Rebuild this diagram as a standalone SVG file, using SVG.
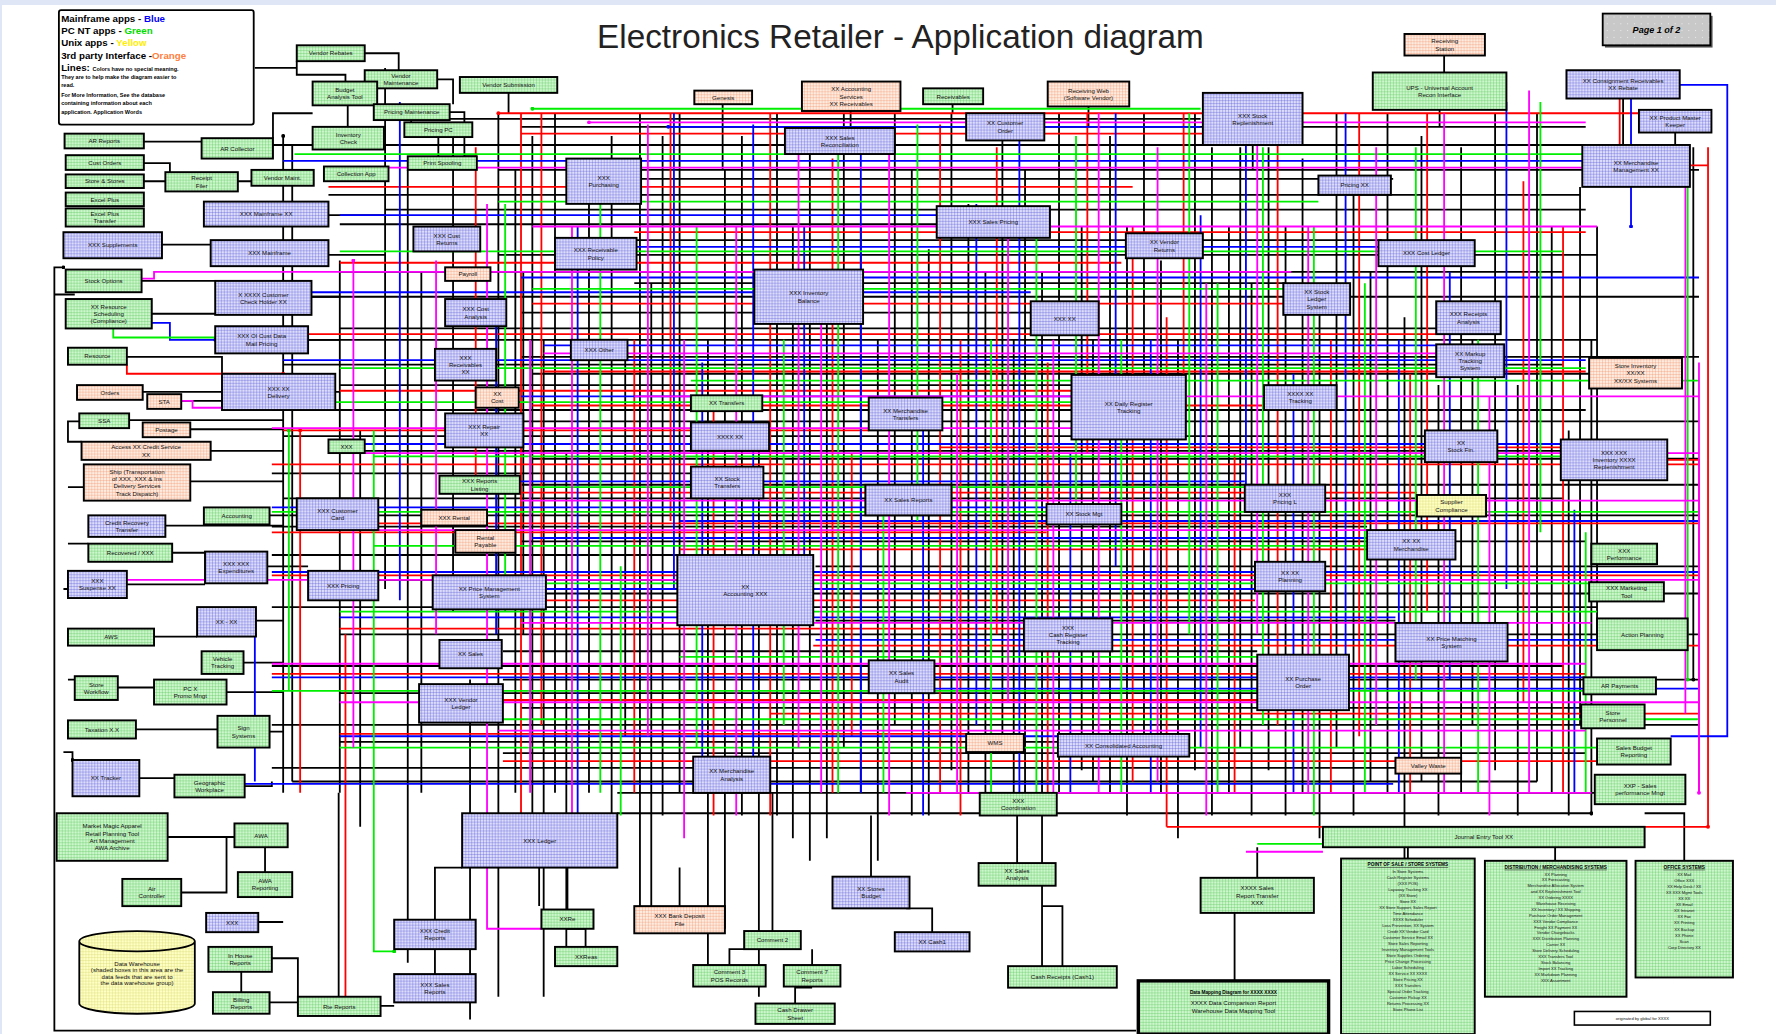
<svg xmlns="http://www.w3.org/2000/svg" width="1776" height="1034" viewBox="0 0 1776 1034">
<defs>
<pattern id="pg" width="2.6" height="2.6" patternUnits="userSpaceOnUse"><rect width="2.6" height="2.6" fill="#ccf6cc"/><path d="M0 0H2.6M0 0V2.6" stroke="#4fbf4f" stroke-width="0.55"/></pattern>
<pattern id="pb" width="2.6" height="2.6" patternUnits="userSpaceOnUse"><rect width="2.6" height="2.6" fill="#dcdcfc"/><path d="M0 0H2.6M0 0V2.6" stroke="#4a4ad0" stroke-width="0.55"/></pattern>
<pattern id="po" width="2.6" height="2.6" patternUnits="userSpaceOnUse"><rect width="2.6" height="2.6" fill="#ffece0"/><path d="M0 0H2.6M0 0V2.6" stroke="#ec8c60" stroke-width="0.55"/></pattern>
<pattern id="py" width="2.6" height="2.6" patternUnits="userSpaceOnUse"><rect width="2.6" height="2.6" fill="#ffffc4"/><path d="M0 0H2.6M0 0V2.6" stroke="#d0d060" stroke-width="0.55"/></pattern>
<pattern id="pq" width="6" height="6" patternUnits="userSpaceOnUse"><rect width="6" height="6" fill="#c8c8c8"/><circle cx="3" cy="3" r="0.5" fill="#f4f4f4"/></pattern>
<marker id="dk" viewBox="0 0 4 4" refX="2" refY="2" markerWidth="3.4" markerHeight="3.4" markerUnits="userSpaceOnUse"><circle cx="2" cy="2" r="2" fill="#000"/></marker>
<marker id="dr" viewBox="0 0 4 4" refX="2" refY="2" markerWidth="3.4" markerHeight="3.4" markerUnits="userSpaceOnUse"><circle cx="2" cy="2" r="2" fill="#ff0000"/></marker>
<marker id="du" viewBox="0 0 4 4" refX="2" refY="2" markerWidth="3.4" markerHeight="3.4" markerUnits="userSpaceOnUse"><circle cx="2" cy="2" r="2" fill="#0000ff"/></marker>
<marker id="de" viewBox="0 0 4 4" refX="2" refY="2" markerWidth="3.4" markerHeight="3.4" markerUnits="userSpaceOnUse"><circle cx="2" cy="2" r="2" fill="#00dd00"/></marker>
<marker id="dm" viewBox="0 0 4 4" refX="2" refY="2" markerWidth="3.4" markerHeight="3.4" markerUnits="userSpaceOnUse"><circle cx="2" cy="2" r="2" fill="#ff00ff"/></marker>
</defs>
<style>
text{font-family:"Liberation Sans",Arial,sans-serif}
.n rect{stroke:#000;stroke-width:1.7}
.g{fill:url(#pg)}.b{fill:url(#pb)}.o{fill:url(#po)}.y{fill:url(#py)}
.t{font-size:5.4px;fill:#111;text-anchor:middle}
.s{font-size:3.6px;fill:#111;text-anchor:middle}
.h{font-size:4.2px;font-weight:bold;text-decoration:underline;fill:#000;text-anchor:middle}
.k{fill:none;stroke:#000;stroke-width:1.6;marker-start:url(#dk);marker-end:url(#dk)}
.r{fill:none;stroke:#ff0000;stroke-width:1.6;marker-start:url(#dr);marker-end:url(#dr)}
.u{fill:none;stroke:#0000ff;stroke-width:1.6;marker-start:url(#du);marker-end:url(#du)}
.e{fill:none;stroke:#00ee00;stroke-width:1.6;marker-start:url(#de);marker-end:url(#de)}
.m{fill:none;stroke:#ff00ff;stroke-width:1.6;marker-start:url(#dm);marker-end:url(#dm)}
.lg{font-size:8.6px;font-weight:bold;fill:#000}
.ls{font-size:4.9px;font-weight:bold;fill:#000}
</style>
<rect width="1776" height="1034" fill="#ffffff"/>
<rect width="1776" height="5" fill="#dfe7f7"/>
<rect width="2" height="1034" fill="#dfe7f7"/>
<g transform="scale(1.13265)">
<text x="795" y="42" font-size="29.4" fill="#222" text-anchor="middle">Electronics Retailer - Application diagram</text>
<g id="page">
<rect x="1417" y="14" width="95" height="28" fill="#555"/>
<rect x="1415" y="12" width="95" height="28" fill="url(#pq)" stroke="#000" stroke-width="1.6"/>
<text x="1462.5" y="29" font-size="8" font-weight="bold" font-style="italic" text-anchor="middle">Page 1 of 2</text>
</g>
<g id="legend">
<rect x="52" y="9" width="172" height="101" fill="#fff" stroke="#000" stroke-width="1.6" rx="2"/>
<text class="lg" x="54" y="19">Mainframe apps - <tspan fill="#0000ff">Blue</tspan></text>
<text class="lg" x="54" y="30">PC NT apps - <tspan fill="#00dd00">Green</tspan></text>
<text class="lg" x="54" y="41">Unix apps - <tspan fill="#ffee00">Yellow</tspan></text>
<text class="lg" x="54" y="52">3rd party Interface -<tspan fill="#ff8040">Orange</tspan></text>
<text class="lg" x="54" y="63">Lines: <tspan class="ls">Colors have no special meaning.</tspan></text>
<text class="ls" x="54" y="70">They are to help make the diagram easier to</text>
<text class="ls" x="54" y="77">read.</text>
<text class="ls" x="54" y="86">For More Information, See the database</text>
<text class="ls" x="54" y="93">containing information about each</text>
<text class="ls" x="54" y="101">application.  Application Words</text>
</g>
<g id="connectors">
<path class="k" d="M340 105H1060M460 112H1400M300 128H1400M440 150H1500M560 158H1230M290 172H1395M340 185H1400M300 198H830M560 212H1220M440 225H1410M300 240H1380M560 250H1135M240 262H1500M460 276H910M300 290H1268M240 300H1410M460 315H1500M250 322H1380M470 330H1410M300 340H946M240 362H1400M460 372H1500M250 385H1258M300 398H1380M470 405H1500M240 418H1100M460 428H1500M250 440H1380M334 455H1500M240 465H1207M460 478H1400M240 490H598M720 500H1500M334 512H1108M460 524H1500M240 536H1410M720 548H1232M300 560H1500M444 575H1110M240 588H1380M444 600H1500M300 612H1110M460 625H1400M240 640H1500M300 655H934M444 665H1400M240 678H1232M258 690H1357M545 700H1410M545 718H1405"/>
<path class="k" d="M250 120V700M258 128V690M300 230V700M318 380V730M340 60V520M360 150V850M372 240V700M400 120V540M415 600V900M440 100V880M455 150V700M462 240V560M470 120V720M480 300V880M490 100V700M500 400V850M520 160V700M540 120V720M552 300V650M565 100V800M575 250V800M585 120V720M600 100V700M625 300V860M640 150V820M655 120V720M670 380V880M686 100V720M700 200V740M715 120V760M730 280V740M745 100V660M760 200V700M775 300V760M790 100V640M805 150V720M820 220V720M840 100V680M855 180V700M870 240V720M885 100V660M895 300V720M905 150V700M920 240V860M935 100V700M955 200V680M965 300V690M980 120V700M995 200V720M1010 100V660M1025 230V700M1040 300V740M1055 100V680M1070 130V720M1085 200V700M1095 130V660M1105 250V720M1120 130V680M1135 200V720M1150 140V700M1165 250V740M1180 100V660M1195 170V720M1210 240V690M1225 100V700M1240 280V760M1255 120V690M1270 340V720M1290 130V700M1300 300V640M1320 100V680M1340 340V720M1357 100V690M1370 200V700M1385 380V720M1395 165V640M1405 300V720M1410 200V560M1495 130V600"/>
<path class="k" d="M56 236H48V910H1003M127 125H178M241 128H276M127 144H150V152M127 160H146M210 160H222M143 216H186M290 190H340M290 225H340M125 248H190M134 277H190M112 315H196V330M126 346H196M160 354H196M114 371H250M168 379H250M186 398H250M168 425H250M146 464H250M152 488H181M112 516H181M136 562H174M104 607H136M120 644H192M123 687H154M238 455H262M236 500H272M226 548H250M215 585H250M200 611H250M238 646H250M216 694H240V690M275 262H300M272 300H300M296 346H300M322 47H352V62M305 72V66H262V54M386 70H400V92M363 106V108M307 93V112M397 99H410V138H421M387 121V138M241 122V100H276M225 60H262M449 82V100M638 92V150M751 98V113M841 92V100M961 94V112M1275 49V64M1271 97V112M1433 87V128M1479 117V128M1106 128V150M476 766V800M501 803V766M517 836V820H500M600 800V766M682 822V700M644 852V838H682M717 852V838M702 886V872H717M769 774V720M823 823V802H800M898 762V720M938 853V800H920M1110 775V748M1243 758V748M1373 760V748M1487 760V718H1452M1090 866V806M384 812V766H408M384 838V860M336 888H348M299 880V700M240 846H263V880M228 814H250M213 858V876M238 885H263M148 739H207M160 788H200V739M234 748V770M66 260H48M70 372H60V390H72M60 430H74M60 480H78M56 520H60M60 600H66M56 664H64V671"/>
<path class="r" d="M440 100H1505M460 118H1150M290 165H1000M560 205H1400M300 232H990M470 268H1133M240 295H1268M480 328H1400M300 345H946M470 358H1116M250 380H767M830 395H1378M240 410H1500M460 435H1251M300 462H1500M240 470H924M600 485H1207M240 508H1500M460 530H1108M300 555H904M718 570H1500M240 595H1400M444 618H1110M680 630H1500M300 648H853M444 672H1410M1030 730H1508"/>
<path class="r" d="M265 380V700M305 560V890H336M420 130V420M460 100V720M478 100V640M560 300V700M592 100V460M630 360V720M680 100V720M735 140V700M752 400V650M830 110V700M848 300V720M880 130V560M925 320V700M960 100V400M1000 200V690M1030 280V730M1045 100V330M1090 400V700M1128 100V640M1175 300V700M1200 100V650M1245 330V700M1260 100V540M1345 160V620M1380 200V700M1430 87V128M1472 406H1500V700M1508 130V730M1492 146H1508M112 322V330H250"/>
<path class="u" d="M590 112H1060M250 142H1400M300 190H827M520 218H1217M460 245H1500M250 258H910M480 305H1268M250 318H1400M460 350H946M300 392H1378M460 425H1099M240 448H924M600 460H1500M470 475H1207M240 505H1500M460 520H1110M300 545H1232M720 565H1410M240 598H1400M825 608H1500M300 650H934M216 692H1230M1483 75H1525V650H1475M134 285H150V300H190"/>
<path class="u" d="M225 560V690M353 90V530M438 280V560M510 200V760M595 100V520M620 320V700M665 110V680M710 200V520M760 120V700M815 350V720M862 180V640M900 110V700M945 400V700M985 100V500M1016 300V700M1060 190V660M1100 100V450M1142 330V700M1188 100V600M1235 300V700M1280 240V600M1330 90V520M1390 450V700M1440 87V200"/>
<path class="e" d="M470 96H1060M260 136H1400M440 178H1164M300 222H1380M470 255H1133M300 325H1400M610 336H1500M240 355H946M330 403H1378M470 430H1099M240 452H1500M330 482H1207M470 515H1405M300 540H1410M600 580H1110M240 610H1398M440 635H1500M300 660H1410M1168 745H1110M100 290V298H190M330 800V840H348"/>
<path class="e" d="M255 380V610M330 380V800M446 180V540M530 160V700M548 500V720M615 200V660M692 300V640M740 120V700M780 440V700M810 110V460M875 300V700M915 200V700M950 120V450M990 300V700M1050 100V560M1075 250V700M1115 130V640M1160 200V720M1205 250V700M1250 130V600M1305 300V700M1360 90V470M1400 470V700M1490 160V600"/>
<path class="m" d="M520 108H1400M300 148H1400M470 200H1410M240 240H1140M480 312H1268M560 350H1500M240 378H946M320 400H1500M460 442H1500M330 468H1207M250 512H1500M460 550H1405M240 586H1400M300 620H1500M440 645H1400M800 700H1405M1168 752H1100M125 246H136V240H240M112 512H250M160 354H170V360H250"/>
<path class="m" d="M312 230V660M385 230V560M430 180V820H478M468 300V700M505 200V720M572 110V650M604 300V740M650 200V720M705 130V660M725 240V700M785 130V720M845 330V700M890 200V620M930 300V700M970 100V700M1022 130V690M1065 250V720M1110 100V560M1155 200V700M1215 130V640M1275 100V700M1315 350V720M1350 80V700M1488 165V630M1500 320V700"/>
</g>
<g id="nodes">
<g id="n1" class="n"><rect class="g" x="262" y="40" width="60" height="14"/><text class="t" x="292" y="49">Vendor Rebates</text></g>
<g id="n2" class="n"><rect class="g" x="322" y="62" width="64" height="16"/><text class="t" x="354" y="68.8">Vendor<tspan x="354" dy="6.4">Maintenance</tspan></text></g>
<g id="n3" class="n"><rect class="g" x="406" y="68" width="86" height="14"/><text class="t" x="449" y="77">Vendor Submission</text></g>
<g id="n4" class="n"><rect class="g" x="276" y="72" width="57" height="21"/><text class="t" x="304.5" y="81.3">Budget<tspan x="304.5" dy="6.4">Analysis Tool</tspan></text></g>
<g id="n5" class="n"><rect class="g" x="330" y="92" width="67" height="14"/><text class="t" x="363.5" y="101">Pricing Maintenance</text></g>
<g id="n6" class="n"><rect class="g" x="357" y="108" width="60" height="13"/><text class="t" x="387" y="116.5">Pricing PC</text></g>
<g id="n7" class="n"><rect class="g" x="57" y="118" width="70" height="13"/><text class="t" x="92" y="126.5">AR Reports</text></g>
<g id="n8" class="n"><rect class="g" x="178" y="122" width="63" height="18"/><text class="t" x="209.5" y="133">AR Collector</text></g>
<g id="n9" class="n"><rect class="g" x="276" y="112" width="63" height="20"/><text class="t" x="307.5" y="120.8">Inventory<tspan x="307.5" dy="6.4">Check</tspan></text></g>
<g id="n10" class="n"><rect class="g" x="360" y="138" width="61" height="12"/><text class="t" x="390.5" y="146">Print Spooling</text></g>
<g id="n11" class="n"><rect class="g" x="58" y="137" width="69" height="13"/><text class="t" x="92.5" y="145.5">Cust Orders</text></g>
<g id="n12" class="n"><rect class="g" x="58" y="154" width="69" height="12"/><text class="t" x="92.5" y="162">Store &amp; Stores</text></g>
<g id="n13" class="n"><rect class="g" x="146" y="152" width="64" height="17"/><text class="t" x="178" y="159.3">Receipt<tspan x="178" dy="6.4">Filer</tspan></text></g>
<g id="n14" class="n"><rect class="g" x="222" y="150" width="55" height="14"/><text class="t" x="249.5" y="159">Vendor Maint.</text></g>
<g id="n15" class="n"><rect class="g" x="286" y="147" width="57" height="13"/><text class="t" x="314.5" y="155.5">Collection App</text></g>
<g id="n16" class="n"><rect class="g" x="58" y="170" width="69" height="12"/><text class="t" x="92.5" y="178">Excel Plus</text></g>
<g id="n17" class="n"><rect class="g" x="58" y="184" width="69" height="16"/><text class="t" x="92.5" y="190.8">Excel Plus<tspan x="92.5" dy="6.4">Transfer</tspan></text></g>
<g id="n18" class="n"><rect class="b" x="180" y="178" width="110" height="22"/><text class="t" x="235" y="191">XXX  Mainframe XX</text></g>
<g id="n19" class="n"><rect class="b" x="56" y="205" width="87" height="23"/><text class="t" x="99.5" y="218.5">XXX  Supplements</text></g>
<g id="n20" class="n"><rect class="b" x="186" y="212" width="104" height="23"/><text class="t" x="238" y="225.5">XXX  Mainframe</text></g>
<g id="n21" class="n"><rect class="b" x="365" y="200" width="59" height="22"/><text class="t" x="394.5" y="209.8">XXX Cust<tspan x="394.5" dy="6.4">Returns</tspan></text></g>
<g id="n22" class="n"><rect class="b" x="490" y="210" width="72" height="28"/><text class="t" x="526" y="222.8">XXX Receivable<tspan x="526" dy="6.4">Policy</tspan></text></g>
<g id="n23" class="n"><rect class="b" x="500" y="140" width="66" height="40"/><text class="t" x="533" y="158.8">XXX<tspan x="533" dy="6.4">Purchasing</tspan></text></g>
<g id="n24" class="n"><rect class="b" x="693" y="113" width="97" height="23"/><text class="t" x="741.5" y="123.3">XXX  Sales<tspan x="741.5" dy="6.4">Reconciliation</tspan></text></g>
<g id="n25" class="n"><rect class="b" x="666" y="238" width="96" height="48"/><text class="t" x="714" y="260.8">XXX Inventory<tspan x="714" dy="6.4">Balance</tspan></text></g>
<g id="n26" class="n"><rect class="b" x="827" y="182" width="100" height="28"/><text class="t" x="877" y="198">XXX  Sales Pricing</text></g>
<g id="n27" class="n"><rect class="b" x="853" y="100" width="69" height="24"/><text class="t" x="887.5" y="110.8">XX Customer<tspan x="887.5" dy="6.4">Order</tspan></text></g>
<g id="n28" class="n"><rect class="b" x="1062" y="82" width="88" height="46"/><text class="t" x="1106" y="103.8">XXX Stock<tspan x="1106" dy="6.4">Replenishment</tspan></text></g>
<g id="n29" class="n"><rect class="o" x="613" y="80" width="51" height="12"/><text class="t" x="638.5" y="88">Genesis</text></g>
<g id="n30" class="n"><rect class="o" x="708" y="72" width="87" height="26"/><text class="t" x="751.5" y="80.6">XX Accounting<tspan x="751.5" dy="6.4">Services</tspan><tspan x="751.5" dy="6.4">XX Receivables</tspan></text></g>
<g id="n31" class="n"><rect class="g" x="815" y="78" width="53" height="14"/><text class="t" x="841.5" y="87">Receivables</text></g>
<g id="n32" class="n"><rect class="o" x="925" y="72" width="72" height="22"/><text class="t" x="961" y="81.8">Receiving Web<tspan x="961" dy="6.4">(Software Vendor)</tspan></text></g>
<g id="n33" class="n"><rect class="o" x="1240" y="30" width="71" height="19"/><text class="t" x="1275.5" y="38.3">Receiving<tspan x="1275.5" dy="6.4">Station</tspan></text></g>
<g id="n34" class="n"><rect class="g" x="1212" y="64" width="118" height="33"/><text class="t" x="1271" y="79.3">UPS - Universal Account<tspan x="1271" dy="6.4">Recon Interface</tspan></text></g>
<g id="n35" class="n"><rect class="b" x="1383" y="62" width="100" height="25"/><text class="t" x="1433" y="73.3">XX Consignment Receivables<tspan x="1433" dy="6.4">XX Rebate</tspan></text></g>
<g id="n36" class="n"><rect class="b" x="1447" y="97" width="64" height="20"/><text class="t" x="1479" y="105.8">XX Product Master<tspan x="1479" dy="6.4">Keeper</tspan></text></g>
<g id="n37" class="n"><rect class="b" x="1397" y="128" width="95" height="37"/><text class="t" x="1444.5" y="145.3">XX Merchandise<tspan x="1444.5" dy="6.4">Management XX</tspan></text></g>
<g id="n38" class="n"><rect class="b" x="1164" y="155" width="64" height="17"/><text class="t" x="1196" y="165.5">Pricing XX</text></g>
<g id="n39" class="n"><rect class="b" x="994" y="206" width="68" height="22"/><text class="t" x="1028" y="215.8">XX Vendor<tspan x="1028" dy="6.4">Returns</tspan></text></g>
<g id="n40" class="n"><rect class="b" x="1217" y="212" width="85" height="23"/><text class="t" x="1259.5" y="225.5">XXX Cost Ledger</text></g>
<g id="n41" class="n"><rect class="b" x="1133" y="250" width="59" height="28"/><text class="t" x="1162.5" y="259.6">XX Stock<tspan x="1162.5" dy="6.4">Ledger</tspan><tspan x="1162.5" dy="6.4">System</tspan></text></g>
<g id="n42" class="n"><rect class="b" x="910" y="266" width="60" height="30"/><text class="t" x="940" y="283">XXX XX</text></g>
<g id="n43" class="n"><rect class="b" x="1268" y="266" width="57" height="29"/><text class="t" x="1296.5" y="279.3">XXX Receipts<tspan x="1296.5" dy="6.4">Analysis</tspan></text></g>
<g id="n44" class="n"><rect class="b" x="1268" y="304" width="60" height="29"/><text class="t" x="1298" y="314.1">XX Markup<tspan x="1298" dy="6.4">Tracking</tspan><tspan x="1298" dy="6.4">System</tspan></text></g>
<g id="n45" class="n"><rect class="o" x="1403" y="316" width="82" height="27"/><text class="t" x="1444" y="325.1">Store Inventory<tspan x="1444" dy="6.4">XX/XX</tspan><tspan x="1444" dy="6.4">XX/XX Systems</tspan></text></g>
<g id="n46" class="n"><rect class="b" x="1116" y="340" width="64" height="22"/><text class="t" x="1148" y="349.8">XXXX XX<tspan x="1148" dy="6.4">Tracking</tspan></text></g>
<g id="n47" class="n"><rect class="b" x="946" y="331" width="101" height="57"/><text class="t" x="996.5" y="358.3">XX Daily Register<tspan x="996.5" dy="6.4">Tracking</tspan></text></g>
<g id="n48" class="n"><rect class="b" x="767" y="351" width="65" height="29"/><text class="t" x="799.5" y="364.3">XX Merchandise<tspan x="799.5" dy="6.4">Transfers</tspan></text></g>
<g id="n49" class="n"><rect class="b" x="1258" y="380" width="64" height="28"/><text class="t" x="1290" y="392.8">XX<tspan x="1290" dy="6.4">Stock Fin.</tspan></text></g>
<g id="n50" class="n"><rect class="b" x="1378" y="388" width="94" height="36"/><text class="t" x="1425" y="401.6">XXX XXX<tspan x="1425" dy="6.4">Inventory XXXX</tspan><tspan x="1425" dy="6.4">Replenishment</tspan></text></g>
<g id="n51" class="n"><rect class="y" x="1251" y="437" width="61" height="19"/><text class="t" x="1281.5" y="445.3">Supplier<tspan x="1281.5" dy="6.4">Compliance</tspan></text></g>
<g id="n52" class="n"><rect class="b" x="1207" y="468" width="78" height="26"/><text class="t" x="1246" y="479.8">XX XX<tspan x="1246" dy="6.4">Merchandise</tspan></text></g>
<g id="n53" class="n"><rect class="b" x="1099" y="428" width="71" height="24"/><text class="t" x="1134.5" y="438.8">XXX<tspan x="1134.5" dy="6.4">Pricing L</tspan></text></g>
<g id="n54" class="n"><rect class="b" x="924" y="445" width="66" height="18"/><text class="t" x="957" y="456">XX Stock Mgt</text></g>
<g id="n55" class="n"><rect class="b" x="764" y="428" width="76" height="27"/><text class="t" x="802" y="443.5">XX Sales Reports</text></g>
<g id="n56" class="n"><rect class="b" x="1108" y="496" width="62" height="26"/><text class="t" x="1139" y="507.8">XX XX<tspan x="1139" dy="6.4">Planning</tspan></text></g>
<g id="n57" class="n"><rect class="g" x="1405" y="480" width="58" height="18"/><text class="t" x="1434" y="487.8">XXX<tspan x="1434" dy="6.4">Performance</tspan></text></g>
<g id="n58" class="n"><rect class="g" x="1403" y="514" width="66" height="17"/><text class="t" x="1436" y="521.3">XXX Marketing<tspan x="1436" dy="6.4">Tool</tspan></text></g>
<g id="n59" class="n"><rect class="g" x="1410" y="546" width="80" height="28"/><text class="t" x="1450" y="562">Action Planning</text></g>
<g id="n60" class="n"><rect class="b" x="1232" y="550" width="99" height="34"/><text class="t" x="1281.5" y="565.8">XX Price Matching<tspan x="1281.5" dy="6.4">System</tspan></text></g>
<g id="n61" class="n"><rect class="b" x="1110" y="578" width="81" height="49"/><text class="t" x="1150.5" y="601.3">XX Purchase<tspan x="1150.5" dy="6.4">Order</tspan></text></g>
<g id="n62" class="n"><rect class="g" x="1398" y="598" width="64" height="15"/><text class="t" x="1430" y="607.5">AR Payments</text></g>
<g id="n63" class="n"><rect class="g" x="1396" y="622" width="56" height="21"/><text class="t" x="1424" y="631.3">Store<tspan x="1424" dy="6.4">Personnel</tspan></text></g>
<g id="n64" class="n"><rect class="g" x="1410" y="652" width="65" height="23"/><text class="t" x="1442.5" y="662.3">Sales Budget<tspan x="1442.5" dy="6.4">Reporting</tspan></text></g>
<g id="n65" class="n"><rect class="g" x="1408" y="684" width="80" height="26"/><text class="t" x="1448" y="695.8">XXP - Sales<tspan x="1448" dy="6.4">performance Mngt</tspan></text></g>
<g id="n66" class="n"><rect class="o" x="1232" y="669" width="58" height="14"/><text class="t" x="1261" y="678">Valley Waste</text></g>
<g id="n67" class="n"><rect class="b" x="934" y="648" width="116" height="20"/><text class="t" x="992" y="660">XX Consolidated Accounting</text></g>
<g id="n68" class="n"><rect class="o" x="853" y="648" width="51" height="16"/><text class="t" x="878.5" y="658">WMS</text></g>
<g id="n69" class="n"><rect class="g" x="865" y="700" width="68" height="20"/><text class="t" x="899" y="708.8">XXX<tspan x="899" dy="6.4">Coordination</tspan></text></g>
<g id="n70" class="n"><rect class="g" x="1168" y="730" width="284" height="18"/><text class="t" x="1310" y="741">Journal Entry Tool XX</text></g>
<g id="n71" class="n"><rect class="b" x="904" y="546" width="78" height="29"/><text class="t" x="943" y="556.1">XXX<tspan x="943" dy="6.4">Cash Register</tspan><tspan x="943" dy="6.4">Tracking</tspan></text></g>
<g id="n72" class="n"><rect class="b" x="767" y="583" width="58" height="29"/><text class="t" x="796" y="596.3">XX Sales<tspan x="796" dy="6.4">Audit</tspan></text></g>
<g id="n73" class="n"><rect class="b" x="612" y="668" width="68" height="32"/><text class="t" x="646" y="682.8">XX Merchandise<tspan x="646" dy="6.4">Analysis</tspan></text></g>
<g id="n74" class="n"><rect class="b" x="598" y="490" width="120" height="62"/><text class="t" x="658" y="519.8">XX<tspan x="658" dy="6.4">Accounting XXX</tspan></text></g>
<g id="n75" class="n"><rect class="b" x="610" y="412" width="64" height="28"/><text class="t" x="642" y="424.8">XX Stock<tspan x="642" dy="6.4">Transfers</tspan></text></g>
<g id="n76" class="n"><rect class="g" x="610" y="349" width="63" height="14"/><text class="t" x="641.5" y="358">XX Transfers</text></g>
<g id="n77" class="n"><rect class="b" x="610" y="373" width="69" height="25"/><text class="t" x="644.5" y="387.5">XXXX XX</text></g>
<g id="n78" class="n"><rect class="g" x="388" y="420" width="71" height="16"/><text class="t" x="423.5" y="426.8">XXX Reports<tspan x="423.5" dy="6.4">Listing</tspan></text></g>
<g id="n79" class="n"><rect class="b" x="262" y="440" width="72" height="28"/><text class="t" x="298" y="452.8">XXX Customer<tspan x="298" dy="6.4">Card</tspan></text></g>
<g id="n80" class="n"><rect class="b" x="272" y="504" width="62" height="26"/><text class="t" x="303" y="519">XXX Pricing</text></g>
<g id="n81" class="n"><rect class="b" x="382" y="508" width="100" height="30"/><text class="t" x="432" y="521.8">XX Price Management<tspan x="432" dy="6.4">System</tspan></text></g>
<g id="n82" class="n"><rect class="b" x="370" y="604" width="74" height="34"/><text class="t" x="407" y="619.8">XXX Vendor<tspan x="407" dy="6.4">Ledger</tspan></text></g>
<g id="n83" class="n"><rect class="b" x="388" y="565" width="55" height="25"/><text class="t" x="415.5" y="579.5">XX Sales</text></g>
<g id="n84" class="n"><rect class="b" x="408" y="718" width="137" height="48"/><text class="t" x="476.5" y="744">XXX Ledger</text></g>
<g id="n85" class="n"><rect class="b" x="735" y="774" width="68" height="28"/><text class="t" x="769" y="786.8">XX Stores<tspan x="769" dy="6.4">Budget</tspan></text></g>
<g id="n86" class="n"><rect class="g" x="864" y="762" width="68" height="20"/><text class="t" x="898" y="770.8">XX Sales<tspan x="898" dy="6.4">Analysis</tspan></text></g>
<g id="n87" class="n"><rect class="g" x="1060" y="775" width="100" height="31"/><text class="t" x="1110" y="786.1">XXXX Sales<tspan x="1110" dy="6.4">Report Transfer</tspan><tspan x="1110" dy="6.4">XXX</tspan></text></g>
<g id="n88" class="n"><rect class="g" x="1184" y="758" width="118" height="155"/><text class="h" x="1243" y="765">POINT OF SALE / STORE SYSTEMS</text>
<text class="s" x="1243" y="771">In Store Systems<tspan x="1243" dy="5.3">Cash Register Systems</tspan><tspan x="1243" dy="5.3">(XXX POS)</tspan><tspan x="1243" dy="5.3">Layaway Tracking XX</tspan><tspan x="1243" dy="5.3">(XX Store)</tspan><tspan x="1243" dy="5.3">Store XX</tspan><tspan x="1243" dy="5.3">XX Store Support, Sales Report</tspan><tspan x="1243" dy="5.3">Time Attendance</tspan><tspan x="1243" dy="5.3">XXXX Scheduler</tspan><tspan x="1243" dy="5.3">Loss Prevention, XX System</tspan><tspan x="1243" dy="5.3">Credit XX Vendor Card</tspan><tspan x="1243" dy="5.3">Customer Service Email XX</tspan><tspan x="1243" dy="5.3">Store Sales Reporting</tspan><tspan x="1243" dy="5.3">Inventory Management Tools</tspan><tspan x="1243" dy="5.3">Store Supplies Ordering</tspan><tspan x="1243" dy="5.3">Price Change Processing</tspan><tspan x="1243" dy="5.3">Labor Scheduling</tspan><tspan x="1243" dy="5.3">XX Service XX XXXX</tspan><tspan x="1243" dy="5.3">Store Pricing XX</tspan><tspan x="1243" dy="5.3">XXX Transfers</tspan><tspan x="1243" dy="5.3">Special Order Tracking</tspan><tspan x="1243" dy="5.3">Customer Pickup XX</tspan><tspan x="1243" dy="5.3">Returns Processing XX</tspan><tspan x="1243" dy="5.3">Store Phone List</tspan></text></g>
<g id="n89" class="n"><rect class="g" x="1311" y="760" width="125" height="120"/><text class="h" x="1373.5" y="767">DISTRIBUTION / MERCHANDISING SYSTEMS</text>
<text class="s" x="1373.5" y="773">XX Planning<tspan x="1373.5" dy="5.2">XX Forecasting</tspan><tspan x="1373.5" dy="5.2">Merchandise Allocation System</tspan><tspan x="1373.5" dy="5.2">and XX Replenishment Tool</tspan><tspan x="1373.5" dy="5.2">XX Ordering XXXX</tspan><tspan x="1373.5" dy="5.2">Warehouse Receiving</tspan><tspan x="1373.5" dy="5.2">XX Inventory / XX Shipping</tspan><tspan x="1373.5" dy="5.2">Purchase Order Management</tspan><tspan x="1373.5" dy="5.2">XXX Vendor Compliance</tspan><tspan x="1373.5" dy="5.2">Freight XX Payment XX</tspan><tspan x="1373.5" dy="5.2">Vendor Chargebacks</tspan><tspan x="1373.5" dy="5.2">XXX Distribution Planning</tspan><tspan x="1373.5" dy="5.2">Carrier XX</tspan><tspan x="1373.5" dy="5.2">Store Delivery Scheduling</tspan><tspan x="1373.5" dy="5.2">XXX Transfers Tool</tspan><tspan x="1373.5" dy="5.2">Stock Balancing</tspan><tspan x="1373.5" dy="5.2">Import XX Tracking</tspan><tspan x="1373.5" dy="5.2">XX Markdown Planning</tspan><tspan x="1373.5" dy="5.2">XXX Assortment</tspan></text></g>
<g id="n90" class="n"><rect class="g" x="1444" y="760" width="86" height="103"/><text class="h" x="1487" y="767">OFFICE SYSTEMS</text>
<text class="s" x="1487" y="773">XX Mail<tspan x="1487" dy="5.4">Office XXX</tspan><tspan x="1487" dy="5.4">XX Help Desk / XX</tspan><tspan x="1487" dy="5.4">XX XXX Mgmt Tools</tspan><tspan x="1487" dy="5.4">XX XX</tspan><tspan x="1487" dy="5.4">XX Email</tspan><tspan x="1487" dy="5.4">XX Intranet</tspan><tspan x="1487" dy="5.4">XX Fax</tspan><tspan x="1487" dy="5.4">XX Printing</tspan><tspan x="1487" dy="5.4">XX Backup</tspan><tspan x="1487" dy="5.4">XX Phone</tspan><tspan x="1487" dy="5.4">Scan</tspan><tspan x="1487" dy="5.4">Corp Directory XX</tspan></text></g>
<g id="n91"><rect x="1390" y="893" width="120" height="12" fill="#fff" stroke="#000" stroke-width="1.4"/><text class="s" x="1450" y="900.5">originated by global for XXXX</text></g>
<g id="n92"><rect x="1005" y="866" width="168" height="47" fill="url(#pg)" stroke="#000" stroke-width="3"/><text class="h" x="1089" y="878" font-size="5">Data Mapping Diagram for XXXX XXXX</text><text class="t" x="1089" y="887">XXXX Data Comparison Report</text><text class="t" x="1089" y="894">Warehouse Data Mapping Tool</text></g>
<g id="n93" class="n"><rect class="g" x="890" y="853" width="96" height="19"/><text class="t" x="938" y="864.5">Cash Receipts (Cash1)</text></g>
<g id="n94" class="n"><rect class="g" x="667" y="886" width="70" height="18"/><text class="t" x="702" y="893.8">Cash Drawer<tspan x="702" dy="6.4">Sheet</tspan></text></g>
<g id="n95" class="n"><rect class="g" x="612" y="852" width="64" height="19"/><text class="t" x="644" y="860.3">Comment 3<tspan x="644" dy="6.4">POS Records</tspan></text></g>
<g id="n96" class="n"><rect class="g" x="692" y="852" width="50" height="19"/><text class="t" x="717" y="860.3">Comment 7<tspan x="717" dy="6.4">Reports</tspan></text></g>
<g id="n97" class="n"><rect class="g" x="657" y="822" width="50" height="16"/><text class="t" x="682" y="832">Comment 2</text></g>
<g id="n98" class="n"><rect class="b" x="790" y="823" width="66" height="17"/><text class="t" x="823" y="833.5">XX Cash1</text></g>
<g id="n99" class="n"><rect class="o" x="560" y="800" width="80" height="24"/><text class="t" x="600" y="810.8">XXX Bank Deposit<tspan x="600" dy="6.4">File</tspan></text></g>
<g id="n100" class="n"><rect class="g" x="490" y="836" width="55" height="17"/><text class="t" x="517.5" y="846.5">XXReas</text></g>
<g id="n101" class="n"><rect class="g" x="478" y="803" width="46" height="17"/><text class="t" x="501" y="813.5">XXRe</text></g>
<g id="n102" class="n"><rect class="b" x="348" y="812" width="72" height="26"/><text class="t" x="384" y="823.8">XXX Credit<tspan x="384" dy="6.4">Reports</tspan></text></g>
<g id="n103" class="n"><rect class="b" x="348" y="860" width="72" height="25"/><text class="t" x="384" y="871.3">XXX Sales<tspan x="384" dy="6.4">Reports</tspan></text></g>
<g id="n104" class="n"><rect class="g" x="263" y="880" width="73" height="17"/><text class="t" x="299.5" y="890.5">Rte Reports</text></g>
<g id="n105" class="n"><rect class="g" x="184" y="836" width="56" height="22"/><text class="t" x="212" y="845.8">In House<tspan x="212" dy="6.4">Reports</tspan></text></g>
<g id="n106" class="n"><rect class="b" x="182" y="806" width="46" height="17"/><text class="t" x="205" y="816.5">XXX</text></g>
<g id="n107" class="n"><rect class="g" x="188" y="876" width="50" height="19"/><text class="t" x="213" y="884.3">Billing<tspan x="213" dy="6.4">Reports</tspan></text></g>
<g id="n108"><path d="M70 831V886A51 9 0 0 0 172 886V831A51 9 0 0 0 70 831A51 9 0 0 0 172 831" fill="url(#py)" stroke="#000" stroke-width="1.6"/><text class="t" x="121" y="853" font-size="4.6">Data Warehouse<tspan x="121" dy="5.6">(shaded boxes in this area are the</tspan><tspan x="121" dy="5.6">data feeds that are sent to</tspan><tspan x="121" dy="5.6">the data warehouse group)</tspan></text></g>
<g id="n109" class="n"><rect class="g" x="108" y="776" width="52" height="24"/><text class="t" x="134" y="786.8">Air<tspan x="134" dy="6.4">Controller</tspan></text></g>
<g id="n110" class="n"><rect class="g" x="207" y="727" width="47" height="21"/><text class="t" x="230.5" y="739.5">AWA</text></g>
<g id="n111" class="n"><rect class="g" x="210" y="770" width="48" height="22"/><text class="t" x="234" y="779.8">AWA<tspan x="234" dy="6.4">Reporting</tspan></text></g>
<g id="n112" class="n"><rect class="g" x="50" y="718" width="98" height="42"/><text class="t" x="99" y="731.4">Market Magic Apparel<tspan x="99" dy="6.4">Retail Planning Tool</tspan><tspan x="99" dy="6.4">Art Management</tspan><tspan x="99" dy="6.4">AWA Archive</tspan></text></g>
<g id="n113" class="n"><rect class="g" x="58" y="238" width="67" height="20"/><text class="t" x="91.5" y="250">Stock Options</text></g>
<g id="n114" class="n"><rect class="g" x="58" y="264" width="76" height="26"/><text class="t" x="96" y="272.6">XX Resource<tspan x="96" dy="6.4">Scheduling</tspan><tspan x="96" dy="6.4">(Compliance)</tspan></text></g>
<g id="n115" class="n"><rect class="g" x="60" y="307" width="52" height="15"/><text class="t" x="86" y="316.5">Resource</text></g>
<g id="n116" class="n"><rect class="o" x="68" y="340" width="58" height="13"/><text class="t" x="97" y="348.5">Orders</text></g>
<g id="n117" class="n"><rect class="o" x="130" y="348" width="30" height="13"/><text class="t" x="145" y="356.5">STA</text></g>
<g id="n118" class="n"><rect class="g" x="70" y="365" width="44" height="13"/><text class="t" x="92" y="373.5">SSA</text></g>
<g id="n119" class="n"><rect class="o" x="126" y="373" width="42" height="13"/><text class="t" x="147" y="381.5">Postage</text></g>
<g id="n120" class="n"><rect class="o" x="72" y="390" width="114" height="16"/><text class="t" x="129" y="396.8">Access XX Credit Service<tspan x="129" dy="6.4">XX</tspan></text></g>
<g id="n121" class="n"><rect class="o" x="74" y="410" width="94" height="32"/><text class="t" x="121" y="418.4">Ship (Transportation<tspan x="121" dy="6.4">of XXX, XXX &amp; Ins</tspan><tspan x="121" dy="6.4">Delivery Services</tspan><tspan x="121" dy="6.4">Track Dispatch)</tspan></text></g>
<g id="n122" class="n"><rect class="b" x="78" y="455" width="68" height="19"/><text class="t" x="112" y="463.3">Credit Recovery<tspan x="112" dy="6.4">Transfer</tspan></text></g>
<g id="n123" class="n"><rect class="g" x="78" y="480" width="74" height="16"/><text class="t" x="115" y="490">Recovered / XXX</text></g>
<g id="n124" class="n"><rect class="b" x="60" y="504" width="52" height="24"/><text class="t" x="86" y="514.8">XXX<tspan x="86" dy="6.4">Suspense XX</tspan></text></g>
<g id="n125" class="n"><rect class="g" x="60" y="555" width="76" height="15"/><text class="t" x="98" y="564.5">AWS</text></g>
<g id="n126" class="n"><rect class="g" x="66" y="597" width="38" height="21"/><text class="t" x="85" y="606.3">Store<tspan x="85" dy="6.4">Workflow</tspan></text></g>
<g id="n127" class="n"><rect class="g" x="60" y="636" width="60" height="16"/><text class="t" x="90" y="646">Taxation X.X</text></g>
<g id="n128" class="n"><rect class="b" x="64" y="671" width="59" height="32"/><text class="t" x="93.5" y="689">XX Tracker</text></g>
<g id="n129" class="n"><rect class="b" x="190" y="248" width="85" height="30"/><text class="t" x="232.5" y="261.8">X XXXX Customer<tspan x="232.5" dy="6.4">Check Holder XX</tspan></text></g>
<g id="n130" class="n"><rect class="b" x="190" y="288" width="82" height="24"/><text class="t" x="231" y="298.8">XXX Ol Cust Data<tspan x="231" dy="6.4">Mail Pricing</tspan></text></g>
<g id="n131" class="n"><rect class="b" x="196" y="330" width="100" height="32"/><text class="t" x="246" y="344.8">XXX  XX<tspan x="246" dy="6.4">Delivery</tspan></text></g>
<g id="n132" class="n"><rect class="g" x="180" y="448" width="58" height="15"/><text class="t" x="209" y="457.5">Accounting</text></g>
<g id="n133" class="n"><rect class="b" x="181" y="487" width="55" height="28"/><text class="t" x="208.5" y="499.8">XXX XXX<tspan x="208.5" dy="6.4">Expenditures</tspan></text></g>
<g id="n134" class="n"><rect class="b" x="174" y="536" width="52" height="26"/><text class="t" x="200" y="551">XX - XX</text></g>
<g id="n135" class="n"><rect class="g" x="178" y="575" width="37" height="20"/><text class="t" x="196.5" y="583.8">Vehicle<tspan x="196.5" dy="6.4">Tracking</tspan></text></g>
<g id="n136" class="n"><rect class="g" x="136" y="600" width="64" height="22"/><text class="t" x="168" y="609.8">PC X<tspan x="168" dy="6.4">Promo Mngt</tspan></text></g>
<g id="n137" class="n"><rect class="g" x="192" y="632" width="46" height="28"/><text class="t" x="215" y="644.8">Sign<tspan x="215" dy="6.4">Systems</tspan></text></g>
<g id="n138" class="n"><rect class="g" x="154" y="684" width="62" height="20"/><text class="t" x="185" y="692.8">Geographic<tspan x="185" dy="6.4">Workplace</tspan></text></g>
<g id="n139" class="n"><rect class="o" x="393" y="236" width="40" height="12"/><text class="t" x="413" y="244">Payroll</text></g>
<g id="n140" class="n"><rect class="b" x="393" y="264" width="54" height="24"/><text class="t" x="420" y="274.8">XXX Cost<tspan x="420" dy="6.4">Analysis</tspan></text></g>
<g id="n141" class="n"><rect class="b" x="384" y="308" width="54" height="28"/><text class="t" x="411" y="317.6">XXX<tspan x="411" dy="6.4">Receivables</tspan><tspan x="411" dy="6.4">XX</tspan></text></g>
<g id="n142" class="n"><rect class="o" x="420" y="342" width="38" height="18"/><text class="t" x="439" y="349.8">XX<tspan x="439" dy="6.4">Cost</tspan></text></g>
<g id="n143" class="n"><rect class="b" x="393" y="365" width="69" height="30"/><text class="t" x="427.5" y="378.8">XXX Repair<tspan x="427.5" dy="6.4">XX</tspan></text></g>
<g id="n144" class="n"><rect class="g" x="290" y="388" width="32" height="12"/><text class="t" x="306" y="396">XXX</text></g>
<g id="n145" class="n"><rect class="o" x="372" y="450" width="58" height="14"/><text class="t" x="401" y="459">XXX Rental</text></g>
<g id="n146" class="n"><rect class="o" x="402" y="468" width="53" height="20"/><text class="t" x="428.5" y="476.8">Rental<tspan x="428.5" dy="6.4">Payable</tspan></text></g>
<g id="n147" class="n"><rect class="b" x="504" y="300" width="50" height="18"/><text class="t" x="529" y="311">XXX Other</text></g>
</g>
</g>
</svg>
